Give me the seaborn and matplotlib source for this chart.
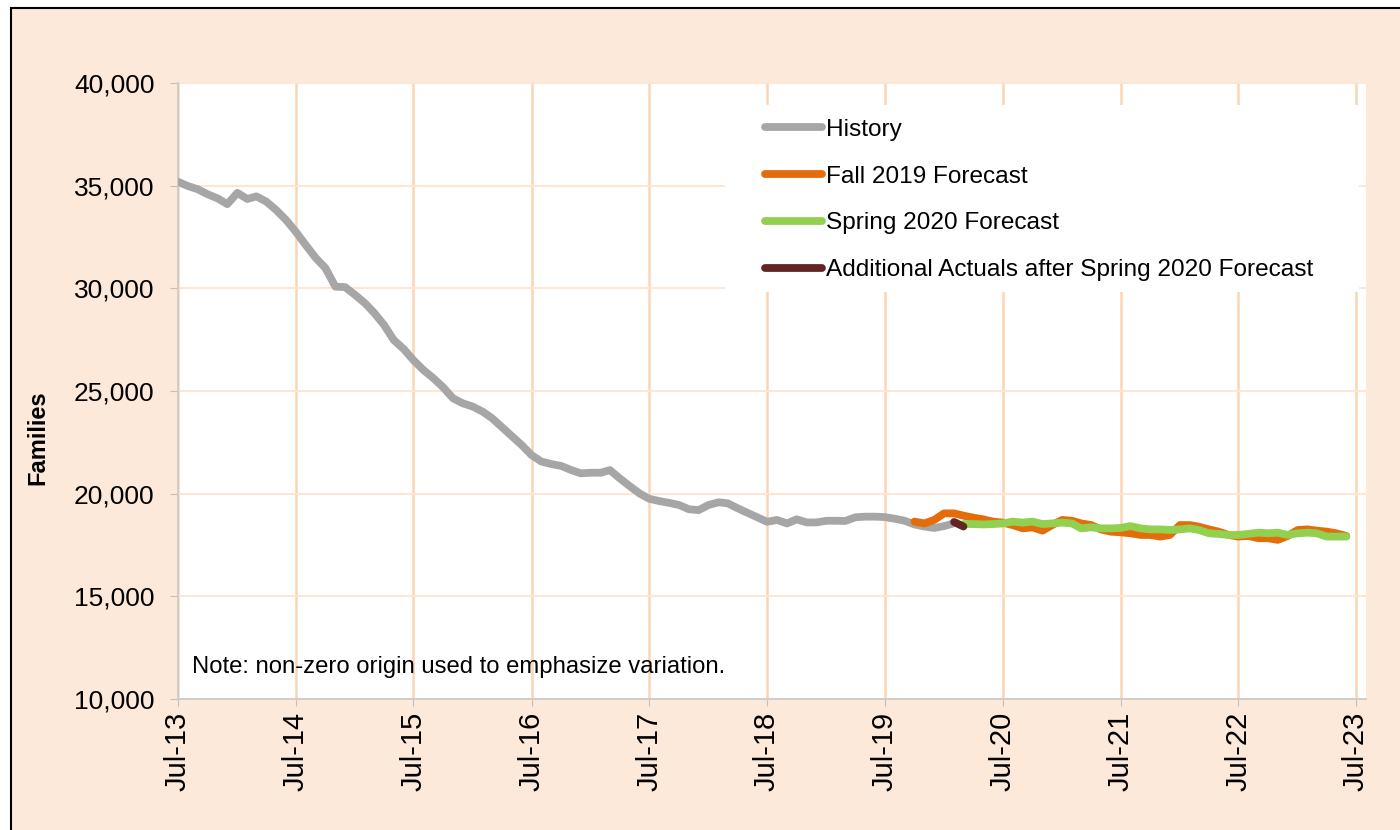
import pandas as pd
import matplotlib
matplotlib.use('Agg')
import matplotlib.pyplot as plt
import matplotlib.dates as mdates
from matplotlib.patches import Rectangle
from matplotlib.ticker import FuncFormatter
import seaborn as sns

# valores (familias por mes)
inicio_historia = '2013-07-01'
historia = [35190, 34980, 34820, 34580, 34380, 34100, 34650, 34350, 34480, 34220,
            33820, 33330, 32760, 32110, 31480, 30990, 30080, 30060, 29680, 29270,
            28810, 28210, 27480, 27040, 26500, 26020, 25620, 25180, 24640, 24400,
            24240, 23990, 23670, 23230, 22800, 22360, 21880, 21560, 21440, 21350,
            21150, 20990, 21020, 21020, 21150, 20740, 20370, 20010, 19750, 19640,
            19550, 19450, 19240, 19200, 19450, 19580, 19530, 19290, 19070, 18850,
            18630, 18720, 18550, 18750, 18600, 18600, 18680, 18680, 18670, 18850,
            18880, 18880, 18860, 18780, 18680, 18500, 18400, 18330, 18420, 18560]

inicio_fall = '2019-10-01'
fall_2019 = [18640, 18550, 18720, 19040, 19040, 18930, 18830, 18750, 18640, 18590,
             18470, 18310, 18360, 18200, 18470, 18720, 18680, 18550, 18470, 18260,
             18150, 18120, 18070, 17990, 17990, 17910, 17990, 18470, 18470, 18390,
             18260, 18150, 17990, 17910, 17940, 17830, 17830, 17750, 17940, 18230,
             18260, 18200, 18150, 18070, 17940]

inicio_spring = '2020-03-01'
spring_2020 = [18520, 18520, 18500, 18520, 18550, 18640, 18590, 18640, 18520, 18550,
               18590, 18550, 18310, 18360, 18310, 18310, 18330, 18420, 18310, 18260,
               18260, 18230, 18260, 18310, 18230, 18070, 18040, 17990, 17990, 18040,
               18100, 18070, 18100, 17990, 18070, 18100, 18070, 17910, 17910, 17910]

inicio_adicional = '2020-02-01'
adicional = [18620, 18400]

series = [
    ('History', inicio_historia, historia, '#A6A6A6'),
    ('Fall 2019 Forecast', inicio_fall, fall_2019, '#E46C0A'),
    ('Spring 2020 Forecast', inicio_spring, spring_2020, '#92D050'),
    ('Additional Actuals after Spring 2020 Forecast', inicio_adicional, adicional, '#632523'),
]

sns.set_style('white')
plt.rcParams['font.family'] = ['Liberation Sans', 'DejaVu Sans']
plt.rcParams['text.color'] = 'black'
plt.rcParams['axes.labelcolor'] = 'black'

fig = plt.figure(figsize=(14, 8.3), dpi=100, facecolor='white')
fundo = Rectangle((11 / 1400, -0.05), 1.1, 1 - 8 / 830 + 0.05,
                  transform=fig.transFigure, facecolor='#FCE9DA',
                  edgecolor='black', linewidth=1.5, zorder=-10)
fig.patches.append(fundo)
ax = fig.add_axes([178 / 1400, 131 / 830, 1188 / 1400, 616 / 830])
ax.set_facecolor('white')
ax.set_axisbelow(True)

for nome, inicio, valores, cor in series:
    df = pd.DataFrame({'data': pd.date_range(inicio, periods=len(valores), freq='MS'),
                       'familias': valores})
    sns.lineplot(data=df, x='data', y='familias', ax=ax, color=cor, linewidth=5.6,
                 label=nome, solid_capstyle='round', zorder=3)

ax.set_ylim(10000, 40000)
ax.set_yticks(range(10000, 40001, 5000))
ax.yaxis.set_major_formatter(FuncFormatter(lambda v, p: f'{int(v):,}'))
ax.set_xlim(pd.Timestamp('2013-07-01'), pd.Timestamp('2023-08-01'))
ax.xaxis.set_major_locator(mdates.MonthLocator(bymonth=7))
ax.xaxis.set_major_formatter(mdates.DateFormatter('%b-%y'))

ax.grid(axis='x', color='#FCD5B5', linewidth=1.8)
ax.grid(axis='y', color='#FDE4D0', linewidth=1.3)

for lado in ['top', 'right']:
    ax.spines[lado].set_visible(False)
for lado in ['left', 'bottom']:
    ax.spines[lado].set_color('#C8C8C8')
    ax.spines[lado].set_linewidth(1.2)

ax.tick_params(axis='y', labelsize=19, length=6, color='#BFBFBF', pad=11, left=True,
               labelcolor='black')
ax.tick_params(axis='x', labelsize=21, length=5, color='#BFBFBF', pad=4,
               labelrotation=90, bottom=True, labelcolor='black')

ax.set_xlabel('')
ax.set_ylabel('Families', fontsize=17, fontweight='bold')
ax.yaxis.set_label_coords(-0.108, 0.425)

# caixa branca atras da legenda
ax.add_patch(Rectangle((0.4604, 0.6607), 0.5337, 0.3036, transform=ax.transAxes,
                       facecolor='white', edgecolor='none', zorder=1))
leg = ax.legend(loc='upper left', bbox_to_anchor=(0.494, 0.942), frameon=False,
                fontsize=17.6, handlelength=2.34, handletextpad=0.16,
                labelspacing=1.01, borderpad=0, borderaxespad=0)

ax.text(0.0122, 0.042, 'Note: non-zero origin used to emphasize variation.',
        transform=ax.transAxes, fontsize=17.2, ha='left', va='baseline', zorder=4)

plt.savefig('out.png', dpi=100, facecolor=fig.get_facecolor())
